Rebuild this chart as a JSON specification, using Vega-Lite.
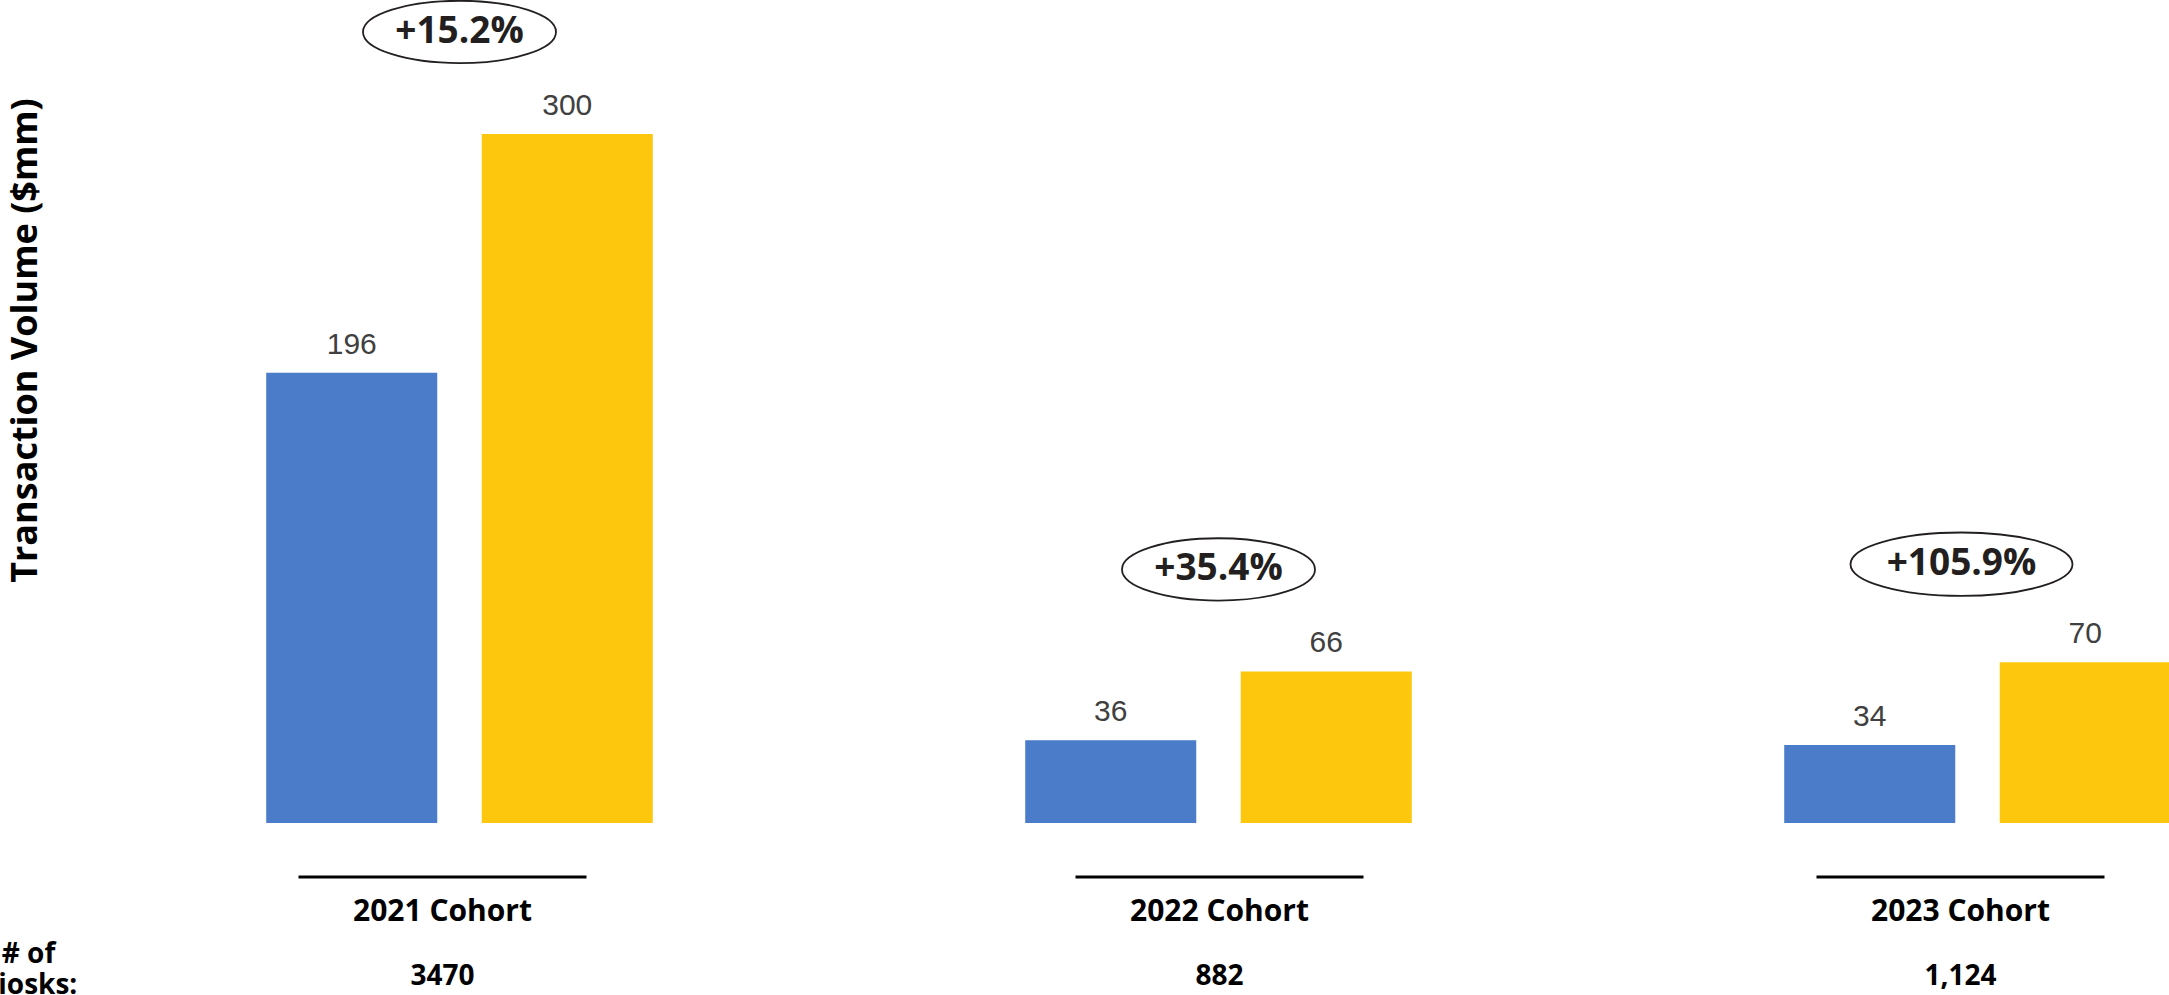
{
  "$schema": "https://vega.github.io/schema/vega-lite/v6.json",
  "width": 2089,
  "height": 823,
  "autosize": {"type": "none"},
  "padding": {"left": 80, "top": 0, "right": 0, "bottom": 172},
  "background": "white",
  "config": {"view": {"stroke": null}},
  "datasets": {
    "bars": [
      {"cohort": "2021 Cohort", "period": "Initial", "volume": 196},
      {"cohort": "2021 Cohort", "period": "Current", "volume": 300},
      {"cohort": "2022 Cohort", "period": "Initial", "volume": 36},
      {"cohort": "2022 Cohort", "period": "Current", "volume": 66},
      {"cohort": "2023 Cohort", "period": "Initial", "volume": 34},
      {"cohort": "2023 Cohort", "period": "Current", "volume": 70}
    ],
    "cohorts": [
      {"cohort": "2021 Cohort", "growth": "+15.2%", "kiosks": "3470", "current": 300},
      {"cohort": "2022 Cohort", "growth": "+35.4%", "kiosks": "882", "current": 66},
      {"cohort": "2023 Cohort", "growth": "+105.9%", "kiosks": "1,124", "current": 70}
    ]
  },
  "layer": [
    {
      "data": {"name": "bars"},
      "mark": {"type": "bar"},
      "encoding": {
        "x": {
          "field": "cohort", "type": "nominal",
          "scale": {"type": "band", "domain": ["2021 Cohort", "2022 Cohort", "2023 Cohort"], "range": [0, 2277], "paddingInner": 0, "paddingOuter": 0},
          "axis": {"labels": false, "ticks": false, "domain": false, "grid": false,
                   "title": ["# of", "Kiosks:"], "titleFont": "Open Sans", "titleFontSize": 28, "titleFontWeight": "bold", "titleColor": "#000000",
                   "titleAnchor": null, "titleX": -52, "titleY": 139, "titleAlign": "center", "titleBaseline": "alphabetic", "titleLineHeight": 31, "titleAngle": 0}
        },
        "xOffset": {"field": "period", "type": "nominal", "scale": {"domain": ["Initial", "Current"], "paddingInner": 0.2065, "paddingOuter": 0.864}},
        "y": {
          "field": "volume", "type": "quantitative",
          "scale": {"domain": [0, 358.3], "nice": false, "zero": true},
          "axis": {"labels": false, "ticks": false, "domain": false, "grid": false,
                   "title": "Transaction Volume ($mm)", "titleFont": "Open Sans", "titleFontSize": 36, "titleFontWeight": "bold", "titleColor": "#000000",
                   "titleAnchor": null, "titleX": -44, "titleY": 340, "titleAlign": "center", "titleBaseline": "alphabetic", "titleAngle": -90}
        },
        "color": {"field": "period", "type": "nominal", "scale": {"domain": ["Initial", "Current"], "range": ["#4A7CCA", "#FDC70E"]}, "legend": null}
      }
    },
    {
      "data": {"name": "bars"},
      "mark": {"type": "text", "font": "Liberation Sans", "fontSize": 30, "color": "#404040", "baseline": "alphabetic", "align": "center", "dy": -19},
      "encoding": {
        "x": {"field": "cohort", "type": "nominal"},
        "xOffset": {"field": "period", "type": "nominal"},
        "y": {"field": "volume", "type": "quantitative"},
        "text": {"field": "volume", "type": "quantitative"}
      }
    },
    {
      "data": {"name": "cohorts"},
      "mark": {"type": "tick", "orient": "horizontal", "size": 288, "thickness": 3, "color": "#000000", "opacity": 1, "yOffset": 54,
               "xOffset": {"expr": "datum.cohort == '2022 Cohort' ? 1 : -17"}},
      "encoding": {
        "x": {"field": "cohort", "type": "nominal"},
        "y": {"datum": 0, "type": "quantitative"}
      }
    },
    {
      "data": {"name": "cohorts"},
      "mark": {"type": "text", "font": "Open Sans", "fontSize": 30, "fontWeight": "bold", "color": "#000000", "baseline": "alphabetic", "align": "center", "dy": 98,
               "xOffset": {"expr": "datum.cohort == '2022 Cohort' ? 1 : -17"}},
      "encoding": {
        "x": {"field": "cohort", "type": "nominal"},
        "y": {"datum": 0, "type": "quantitative"},
        "text": {"field": "cohort", "type": "nominal"}
      }
    },
    {
      "data": {"name": "cohorts"},
      "mark": {"type": "text", "font": "Open Sans", "fontSize": 28, "fontWeight": "bold", "color": "#000000", "baseline": "alphabetic", "align": "center", "dy": 162,
               "xOffset": {"expr": "datum.cohort == '2022 Cohort' ? 1 : -17"}},
      "encoding": {
        "x": {"field": "cohort", "type": "nominal"},
        "y": {"datum": 0, "type": "quantitative"},
        "text": {"field": "kiosks", "type": "nominal"}
      }
    },
    {
      "data": {"name": "cohorts"},
      "transform": [{"filter": "length(datum.growth) <= 6"}],
      "layer": [
        {
          "mark": {"type": "point", "filled": false, "stroke": "#231f20", "strokeWidth": 1.8, "opacity": 1, "size": 37249, "yOffset": -102,
                   "shape": "M -1 0 C -1 -0.1784 -0.5523 -0.323 0 -0.323 C 0.5523 -0.323 1 -0.1784 1 0 C 1 0.1784 0.5523 0.323 0 0.323 C -0.5523 0.323 -1 0.1784 -1 0 Z"},
          "encoding": {
            "x": {"field": "cohort", "type": "nominal"},
            "y": {"field": "current", "type": "quantitative"}
          }
        },
        {
          "mark": {"type": "text", "font": "Open Sans", "fontSize": 37, "fontWeight": "bold", "color": "#231f20", "baseline": "middle", "align": "center", "yOffset": -102},
          "encoding": {
            "x": {"field": "cohort", "type": "nominal"},
            "y": {"field": "current", "type": "quantitative"},
            "text": {"field": "growth", "type": "nominal"}
          }
        }
      ]
    },
    {
      "data": {"name": "cohorts"},
      "transform": [{"filter": "length(datum.growth) > 6"}],
      "layer": [
        {
          "mark": {"type": "point", "filled": false, "stroke": "#231f20", "strokeWidth": 1.8, "opacity": 1, "size": 49284, "yOffset": -98, "xOffset": -16,
                   "shape": "M -1 0 C -1 -0.1578 -0.5523 -0.2857 0 -0.2857 C 0.5523 -0.2857 1 -0.1578 1 0 C 1 0.1578 0.5523 0.2857 0 0.2857 C -0.5523 0.2857 -1 0.1578 -1 0 Z"},
          "encoding": {
            "x": {"field": "cohort", "type": "nominal"},
            "y": {"field": "current", "type": "quantitative"}
          }
        },
        {
          "mark": {"type": "text", "font": "Open Sans", "fontSize": 37, "fontWeight": "bold", "color": "#231f20", "baseline": "middle", "align": "center", "yOffset": -98, "xOffset": -16},
          "encoding": {
            "x": {"field": "cohort", "type": "nominal"},
            "y": {"field": "current", "type": "quantitative"},
            "text": {"field": "growth", "type": "nominal"}
          }
        }
      ]
    }
  ]
}
